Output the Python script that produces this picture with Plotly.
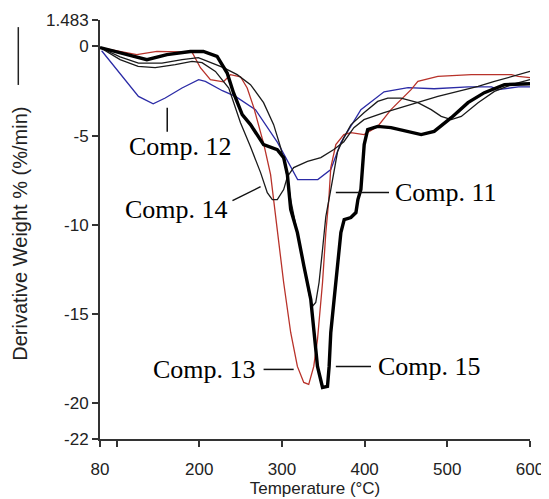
import plotly.graph_objects as go

# ---- data ----
comp12_x = [82, 126.5, 144.3, 158.9, 179.2, 199.3, 207.4, 228, 243.8, 268, 294.8, 310.6, 319, 343.4, 359.1,
            371.3, 395.5, 423.5, 452.6, 484.1, 525.4, 553.3, 561.8, 586, 600]
comp12_y = [-0.24, -2.80, -3.21, -2.89, -2.33, -1.86, -1.96, -2.48, -2.80, -3.54, -5.39, -6.74, -7.46, -7.46, -6.90,
            -5.39, -3.54, -2.54, -2.31, -2.37, -2.26, -2.26, -2.42, -2.26, -2.26]

comp13_x = [80, 124.5, 148.8, 171, 191.3, 201.4, 213.5, 229.3, 237.8, 249.9, 258, 266, 278.2, 286.3, 294.4,
            302.1, 310.6, 318.7, 326.4, 332.4, 338.5, 343, 349.1, 353.1, 356.7, 359.1, 365.2, 374.9, 383.4,
            399.2, 415.8, 431.9, 456.2, 464.4, 488.6, 529, 577.6, 585.7, 600]
comp13_y = [-0.06, -0.46, -0.28, -0.28, -0.32, -1.19, -1.86, -1.98, -1.58, -1.70, -2.33, -3.43, -5.50, -7.18, -10.43,
            -13.23, -16.03, -17.93, -18.83, -18.94, -17.93, -16.42, -13.23, -10.43, -8.58, -6.79, -5.50, -4.94, -4.83,
            -4.94, -4.48, -3.54, -2.42, -1.96, -1.68, -1.58, -1.58, -1.68, -1.75]

comp15_x = [80, 114, 136.7, 161, 189.2, 205, 221.6, 233.8, 241.4, 252, 262, 277.8, 294.4, 302.1, 306.6, 310.6,
            318.7, 326.7, 334.9, 338.9, 343, 349.1, 355.1, 357.1, 359.1, 363.1, 371.3, 375.3, 383.4, 389.5,
            391.9, 395.5, 399.5, 403.7, 415.8, 431.9, 452.2, 468.4, 484.1, 504.8, 525, 544.8, 569.1, 600]
comp15_y = [-0.06, -0.46, -0.74, -0.46, -0.28, -0.28, -0.56, -1.49, -2.59, -3.82, -4.38, -5.50, -5.78, -6.23, -7.18, -9.14,
            -10.43, -12.33, -14.18, -16.03, -17.93, -19.11, -19.05, -17.93, -16.03, -14.18, -10.43, -9.70, -9.59, -9.31,
            -8.58, -8.02, -5.50, -4.66, -4.48, -4.55, -4.76, -4.94, -4.76, -3.99, -3.15, -2.59, -2.14, -2.09]

comp14_x = [80, 104.3, 126.1, 146.7, 171, 191.3, 203.4, 219.6, 235.7, 249.9, 262, 274.2, 282.3, 288.4, 294.4,
            302.1, 306.6, 314.2, 330.9, 347, 362.8, 374.9, 387, 399.2, 423.5, 444.1, 464.4, 488.6, 512.9, 537.2,
            557, 577.6, 600]
comp14_y = [-0.06, -0.74, -1.12, -1.19, -1.02, -0.84, -0.91, -1.40, -2.33, -4.27, -5.62, -7.07, -8.19, -8.58, -8.58,
            -8.02, -7.30, -6.79, -6.44, -6.23, -5.78, -5.34, -4.55, -4.10, -3.71, -3.43, -3.15, -2.80, -2.52, -2.24,
            -1.96, -1.68, -1.40]

comp11_x = [80, 104.3, 126.5, 154.9, 179.2, 198.9, 215.6, 229.3, 245.9, 262, 277.8, 290, 298.5, 304.5, 310.6,
            318.7, 326.7, 332.8, 336.9, 340.9, 344.9, 349.1, 353.1, 359.1, 362.8, 367.3, 374.9, 383.4, 399.2,
            415.8, 428, 444.1, 464.4, 480.5, 492.6, 504.8, 516.9, 537.2, 557, 577.6, 600]
comp11_y = [-0.06, -0.58, -0.93, -0.93, -0.74, -0.63, -0.93, -1.19, -1.58, -2.14, -3.15, -4.38, -5.67, -6.79, -8.58,
            -10.43, -12.33, -13.90, -14.56, -14.35, -13.23, -11.38, -9.53, -8.02, -7.02, -5.89, -5.11, -4.39, -3.72,
            -3.08, -2.89, -2.89, -3.15, -3.54, -3.92, -4.10, -3.92, -3.15, -2.52, -2.14, -1.86]

x_tick_vals = [80, 100, 200, 300, 400, 500, 600]
x_tick_text = ["80", "", "200", "300", "400", "500", "600"]
y_tick_vals = [1.483, 0, -5, -10, -15, -20, -22]
y_tick_text = ["1.483", "0", "-5", "-10", "-15", "-20", "-22"]

# label text, anchor point, and leader line (layout only)
labels = [
    ("Comp. 12", 177, -5.6, "center", (161.3, -3.43, 161.3, -4.78)),
    ("Comp. 14", 173, -9.15, "center", (240.2, -8.64, 274.2, -7.86)),
    ("Comp. 11", 434, -8.2, "left", (365.2, -8.19, 429.5, -8.19)),
    ("Comp. 13", 271, -18.1, "right", (277.8, -18.1, 314.2, -18.1)),
    ("Comp. 15", 414, -17.95, "left", (365.2, -17.93, 407.7, -17.93)),
]

fig = go.Figure()
thin = 1.3
fig.add_trace(go.Scatter(x=comp12_x, y=comp12_y, mode="lines", name="Comp. 12",
                         line=dict(color="#2B2BA6", width=thin)))
fig.add_trace(go.Scatter(x=comp13_x, y=comp13_y, mode="lines", name="Comp. 13",
                         line=dict(color="#B8322A", width=thin)))
fig.add_trace(go.Scatter(x=comp14_x, y=comp14_y, mode="lines", name="Comp. 14",
                         line=dict(color="#1a1a1a", width=thin)))
fig.add_trace(go.Scatter(x=comp11_x, y=comp11_y, mode="lines", name="Comp. 11",
                         line=dict(color="#1a1a1a", width=thin)))
fig.add_trace(go.Scatter(x=comp15_x, y=comp15_y, mode="lines", name="Comp. 15",
                         line=dict(color="#000000", width=3.4)))

serif = "Liberation Serif, Times New Roman, serif"
sans = "Liberation Sans, Arial, sans-serif"

for text, tx, ty, anchor, (x0, y0, x1, y1) in labels:
    fig.add_annotation(x=tx, y=ty, xref="x", yref="y", text=text, showarrow=False,
                       xanchor=anchor, yanchor="middle",
                       font=dict(family=serif, size=26, color="#000"))
    fig.add_shape(type="line", xref="x", yref="y", x0=x0, y0=y0, x1=x1, y1=y1,
                  line=dict(color="#111", width=1.5))

# y-axis title and its decorative stroke
fig.add_annotation(xref="paper", yref="paper", x=-0.186, y=0.49, text="Derivative Weight % (%/min)",
                   textangle=-90, showarrow=False, xanchor="center", yanchor="middle",
                   font=dict(family=sans, size=20, color="#222"))
fig.add_shape(type="line", xref="paper", yref="paper", x0=-0.19, x1=-0.19, y0=0.983, y1=0.845,
              line=dict(color="#222", width=1.5))

# the page adds an 8px body margin, so the figure is 8px smaller than the window
fig.update_layout(
    width=541, height=491,
    margin=dict(l=92, r=19, t=12, b=60, autoexpand=False),
    paper_bgcolor="white", plot_bgcolor="white",
    showlegend=False,
    xaxis=dict(range=[80, 600], tickvals=x_tick_vals, ticktext=x_tick_text, automargin=False,
               showgrid=False, zeroline=False, showline=True, linecolor="#333", linewidth=2,
               ticks="outside", ticklen=6, tickwidth=2, tickcolor="#333", ticklabelstandoff=8,
               tickfont=dict(family=sans, size=17, color="#222"),
               title=dict(text="Temperature (°C)", font=dict(family=sans, size=17, color="#222"), standoff=4)),
    yaxis=dict(range=[-22, 1.483], tickvals=y_tick_vals, ticktext=y_tick_text, automargin=False,
               showgrid=False, zeroline=False, showline=True, linecolor="#333", linewidth=2,
               ticks="outside", ticklen=6, tickwidth=2, tickcolor="#333",
               tickfont=dict(family=sans, size=17, color="#222")),
)

fig.write_html("out.html")
